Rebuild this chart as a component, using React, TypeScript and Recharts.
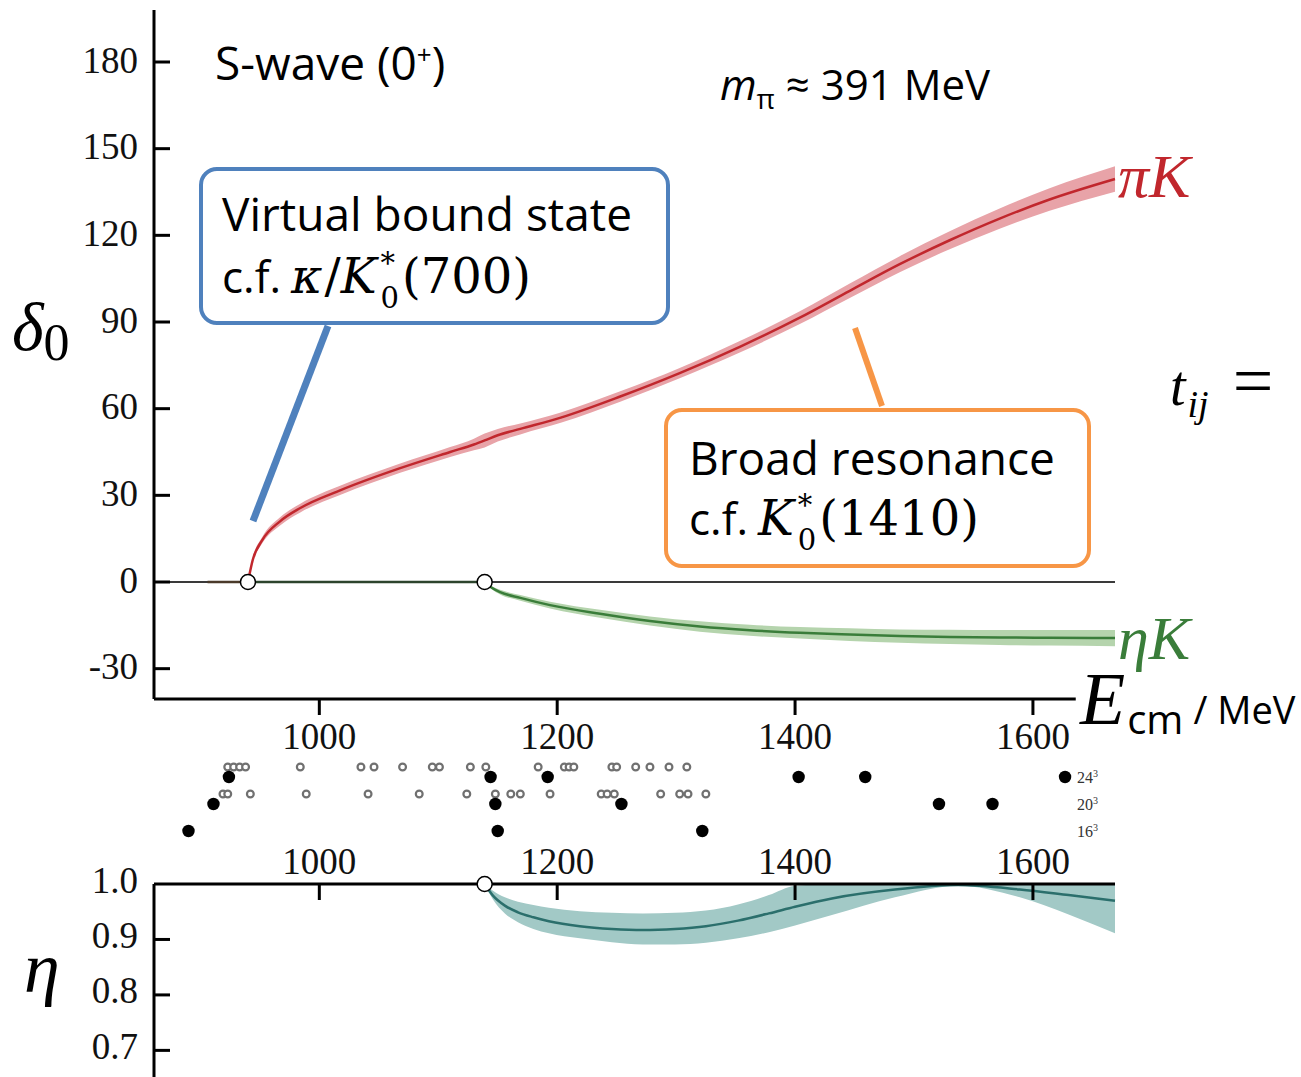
import React from 'react';
import {
  ComposedChart, ScatterChart, Scatter, Line, Area, XAxis, YAxis, ReferenceLine, ReferenceDot
} from 'recharts';

// thresholds in MeV
const piKThreshold = 940;
const etaKThreshold = 1139;

const xDomain: [number, number] = [861, 1669];
const xTicks = [1000, 1200, 1400, 1600];
const deltaTicks = [-30, 0, 30, 60, 90, 120, 150, 180];
const etaTicks = [0.7, 0.8, 0.9, 1.0];

// pi K phase shift (deg) with error half-width
const piKE = [940, 944, 952, 967, 984, 1018, 1068, 1110, 1130, 1139, 1150, 1169, 1203, 1253, 1303, 1354, 1404, 1446, 1488, 1530, 1572, 1614, 1669];
const piKDelta = [0, 7.6, 14.5, 21, 25.6, 31.8, 39.4, 45, 47.6, 49, 50.8, 53, 56.9, 64.2, 72.3, 81.5, 91.5, 100.8, 110, 118.3, 125.8, 132.4, 139.5];
const piKErr = [0, 0.8, 1.1, 1.4, 1.5, 1.6, 1.6, 1.7, 2, 2.4, 2.2, 1.9, 1.8, 1.8, 1.8, 2, 2.2, 2.5, 2.8, 3.1, 3.5, 3.9, 4.4];

// eta K phase shift (deg)
const etaKE = [1139, 1145, 1152, 1169, 1194, 1236, 1278, 1320, 1362, 1404, 1446, 1488, 1530, 1572, 1614, 1669];
const etaKDelta = [0, -2, -3.5, -5.5, -8, -11, -13.5, -15.4, -16.7, -17.6, -18.2, -18.7, -19, -19.2, -19.3, -19.4];
const etaKErr = [0, 0.5, 0.8, 1, 1.2, 1.4, 1.6, 1.8, 1.9, 2, 2.2, 2.3, 2.5, 2.6, 2.7, 2.8];

// inelasticity eta
const inelE = [1139, 1146, 1156, 1167, 1180, 1193, 1219, 1246, 1272, 1299, 1325, 1352, 1378, 1400, 1431, 1484, 1537, 1589, 1630, 1669];
const inelVal = [1.0, 0.979, 0.961, 0.949, 0.94, 0.933, 0.924, 0.919, 0.917, 0.919, 0.924, 0.934, 0.947, 0.959, 0.974, 0.99, 0.998, 0.99, 0.98, 0.97];
const inelLow = [1.0, 0.972, 0.947, 0.931, 0.919, 0.911, 0.902, 0.895, 0.891, 0.891, 0.894, 0.902, 0.913, 0.925, 0.944, 0.976, 0.997, 0.976, 0.945, 0.911];
const inelHigh = [1.0, 0.988, 0.976, 0.968, 0.962, 0.957, 0.951, 0.948, 0.947, 0.948, 0.952, 0.963, 0.98, 0.997, 1.0, 1.0, 1.0, 1.0, 1.0, 1.0];

// finite-volume energy levels (MeV)
const levels24 = [924, 1144, 1192, 1403, 1459, 1627];
const levels20 = [911, 1148, 1254, 1521, 1566];
const levels16 = [890, 1150, 1322];
const free24 = [923, 928, 933, 938, 984, 1035, 1046, 1070, 1095, 1101, 1127, 1140, 1184, 1206, 1210, 1214, 1246, 1250, 1266, 1278, 1294, 1309];
const free20 = [919, 923, 942, 989, 1041, 1084, 1124, 1148, 1161, 1169, 1194, 1237, 1242, 1248, 1287, 1303, 1310, 1325];
const volumeLabels = ['24', '20', '16'];
const volumeRow = [3, 2, 1];
const freeOffset = 0.37;

// merged table for the phase-shift panel
const phaseMap = new Map<number, any>();
piKE.forEach((e, i) => {
  const r = phaseMap.get(e) || { E: e };
  r.pi = piKDelta[i];
  r.piBand = [piKDelta[i] - piKErr[i], piKDelta[i] + piKErr[i]];
  phaseMap.set(e, r);
});
etaKE.forEach((e, i) => {
  const r = phaseMap.get(e) || { E: e };
  r.eta = etaKDelta[i];
  r.etaBand = [etaKDelta[i] - etaKErr[i], etaKDelta[i] + etaKErr[i]];
  phaseMap.set(e, r);
});
const phaseData = Array.from(phaseMap.values()).sort((a, b) => a.E - b.E);

const inelData = inelE.map((e, i) => ({ E: e, val: inelVal[i], band: [inelLow[i], inelHigh[i]] }));

const toPoints = (arr: number[], y: number) => arr.map(E => ({ E, y }));

const serif = '"Liberation Serif", "DejaVu Serif", serif';
const math = '"DejaVu Serif", "Liberation Serif", serif';
const sans = '"Open Sans", "Noto Sans", sans-serif';

const TOP_BOTTOM = 699;
const AXIS_X = 154;
const TICK_FONT = 37;
const MATH_SIZE = 48;

const TopXTick = (props: any) => {
  const { x, payload } = props;
  return (
    <g>
      <line x1={x} x2={x} y1={TOP_BOTTOM} y2={TOP_BOTTOM + 16} stroke="#000" strokeWidth={3} />
      <text x={x} y={736} textAnchor="middle" dominantBaseline="central" fontFamily={serif} fontSize={TICK_FONT} fill="#111">
        {payload.value}
      </text>
    </g>
  );
};

const TopYTick = (props: any) => {
  const { y, payload } = props;
  return (
    <g>
      <line x1={AXIS_X} x2={AXIS_X + 16} y1={y} y2={y} stroke="#000" strokeWidth={3} />
      <text x={138} y={y - 2} textAnchor="end" dominantBaseline="central" fontFamily={serif} fontSize={TICK_FONT} fill="#111">
        {payload.value}
      </text>
    </g>
  );
};

const BotXTick = (props: any) => {
  const { x, payload } = props;
  return (
    <g>
      <line x1={x} x2={x} y1={44} y2={60} stroke="#000" strokeWidth={3} />
      <text x={x} y={21} textAnchor="middle" dominantBaseline="central" fontFamily={serif} fontSize={TICK_FONT} fill="#111">
        {payload.value}
      </text>
    </g>
  );
};

const BotYTick = (props: any) => {
  const { y, payload } = props;
  return (
    <g>
      {payload.value < 1 && <line x1={AXIS_X} x2={AXIS_X + 16} y1={y} y2={y} stroke="#000" strokeWidth={3} />}
      <text x={138} y={y - 4} textAnchor="end" dominantBaseline="central" fontFamily={serif} fontSize={TICK_FONT} fill="#111">
        {payload.value.toFixed(1)}
      </text>
    </g>
  );
};

const blackDot = (p: any) => <circle cx={p.cx} cy={p.cy} r={6.2} fill="#000" />;
const greyRing = (p: any) => <circle cx={p.cx} cy={p.cy} r={3.4} fill="#fff" stroke="#707070" strokeWidth={2.2} />;

const abs = (left: number, top: number, extra: React.CSSProperties = {}): React.CSSProperties => ({
  position: 'absolute', left, top, whiteSpace: 'nowrap', ...extra
});

// K with stacked * and 0
const KStar = ({ size }: { size: number }) => (
  <span style={{ fontFamily: math, fontSize: size }}>
    <i>K</i>
    <span style={{ display: 'inline-flex', flexDirection: 'column', verticalAlign: 'middle', fontSize: 29, lineHeight: 1.2, marginLeft: 4, marginRight: 3 }}>
      <span style={{ fontStyle: 'italic' }}>*</span>
      <span>0</span>
    </span>
  </span>
);

export default function App() {
  return (
    <div style={{ position: 'absolute', left: 0, top: 0, width: 1301, height: 1077, background: '#fff', overflow: 'hidden' }}>
      {/* phase shift panel */}
      <div style={{ position: 'absolute', left: 0, top: 0 }}>
        <ComposedChart width={1301} height={760} data={phaseData} margin={{ top: 10, right: 186, left: 94, bottom: 21 }}>
          <XAxis dataKey="E" type="number" domain={xDomain} ticks={xTicks} axisLine={false} tickLine={false} height={40} tick={TopXTick} interval={0} />
          <YAxis type="number" domain={[-40.5, 198]} ticks={deltaTicks} axisLine={false} tickLine={false} width={60} tick={TopYTick} interval={0} />
          <ReferenceLine y={0} stroke="#3a3a3a" strokeWidth={2} />
          <ReferenceLine segment={[{ x: 906, y: 0 }, { x: piKThreshold, y: 0 }]} stroke="#4a3a2a" strokeWidth={2.5} />
          <ReferenceLine segment={[{ x: piKThreshold, y: 0 }, { x: etaKThreshold, y: 0 }]} stroke="#2c442c" strokeWidth={2.5} />
          <ReferenceLine x={xDomain[0]} stroke="#000" strokeWidth={3} />
          <ReferenceLine segment={[{ x: xDomain[0], y: -40.5 }, { x: 1636, y: -40.5 }]} stroke="#000" strokeWidth={3} />
          <Area type="monotone" dataKey="piBand" stroke="none" fill="#e8a3a8" fillOpacity={1} connectNulls isAnimationActive={false} activeDot={false} />
          <Area type="monotone" dataKey="etaBand" stroke="none" fill="#b5d4ad" fillOpacity={1} connectNulls isAnimationActive={false} activeDot={false} />
          <Line type="monotone" dataKey="pi" stroke="#c1272d" strokeWidth={2.5} dot={false} activeDot={false} connectNulls isAnimationActive={false} />
          <Line type="monotone" dataKey="eta" stroke="#3a7d3a" strokeWidth={2.5} dot={false} activeDot={false} connectNulls isAnimationActive={false} />
          <ReferenceDot x={piKThreshold} y={0} r={7.5} fill="#fff" stroke="#000" strokeWidth={1.5} />
          <ReferenceDot x={etaKThreshold} y={0} r={7.5} fill="#fff" stroke="#000" strokeWidth={1.5} />
        </ComposedChart>
      </div>

      {/* energy levels strip */}
      <div style={{ position: 'absolute', left: 0, top: 750 }}>
        <ScatterChart width={1301} height={108} margin={{ top: 0, right: 186, left: 154, bottom: 0 }}>
          <XAxis dataKey="E" type="number" domain={xDomain} hide />
          <YAxis dataKey="y" type="number" domain={[0, 4]} hide />
          <Scatter data={toPoints(free24, volumeRow[0] + freeOffset)} shape={greyRing} isAnimationActive={false} />
          <Scatter data={toPoints(free20, volumeRow[1] + freeOffset)} shape={greyRing} isAnimationActive={false} />
          <Scatter data={toPoints(levels24, volumeRow[0])} shape={blackDot} isAnimationActive={false} />
          <Scatter data={toPoints(levels20, volumeRow[1])} shape={blackDot} isAnimationActive={false} />
          <Scatter data={toPoints(levels16, volumeRow[2])} shape={blackDot} isAnimationActive={false} />
        </ScatterChart>
      </div>
      {volumeLabels.map((v, i) => (
        <div key={v} style={abs(1077, 764 + i * 27, { fontFamily: serif, fontSize: 16, color: '#333', lineHeight: '20px' })}>
          {v}<sup style={{ fontSize: 10 }}>3</sup>
        </div>
      ))}

      {/* inelasticity panel */}
      <div style={{ position: 'absolute', left: 0, top: 840 }}>
        <ComposedChart width={1301} height={237} data={inelData} margin={{ top: 0, right: 186, left: 94, bottom: 0 }}>
          <XAxis dataKey="E" type="number" orientation="top" domain={xDomain} ticks={xTicks} axisLine={false} tickLine={false} height={44} tick={BotXTick} interval={0} />
          <YAxis type="number" domain={[0.652, 1.0]} ticks={etaTicks} axisLine={false} tickLine={false} width={60} tick={BotYTick} interval={0} />
          <Area type="monotone" dataKey="band" stroke="none" fill="#a2c9c6" fillOpacity={1} isAnimationActive={false} activeDot={false} />
          <Line type="monotone" dataKey="val" stroke="#2b6f6c" strokeWidth={2.5} dot={false} activeDot={false} isAnimationActive={false} />
          <ReferenceLine y={1.0} stroke="#000" strokeWidth={3} />
          <ReferenceLine x={xDomain[0]} stroke="#000" strokeWidth={3} />
          <ReferenceDot x={etaKThreshold} y={1.0} r={7.5} fill="#fff" stroke="#000" strokeWidth={1.5} />
        </ComposedChart>
      </div>

      {/* axis labels */}
      <div style={abs(12, 288, { fontFamily: serif, fontSize: 68, fontStyle: 'italic', lineHeight: '78px' })}>
        δ<span style={{ fontStyle: 'normal', fontSize: 52, position: 'relative', top: 10 }}>0</span>
      </div>
      <div style={abs(24, 928, { fontFamily: serif, fontSize: 72, fontStyle: 'italic', lineHeight: '80px' })}>η</div>
      <div style={abs(1080, 656, { lineHeight: '86px' })}>
        <span style={{ fontFamily: serif, fontStyle: 'italic', fontSize: 74 }}>E</span>
        <span style={{ fontFamily: sans, fontSize: 40, position: 'relative', top: 10, marginLeft: 2 }}>cm</span>
        <span style={{ fontFamily: sans, fontSize: 38, marginLeft: 10 }}>/ MeV</span>
      </div>
      <div style={abs(1170, 343, { fontFamily: serif, fontSize: 56, lineHeight: '76px' })}>
        <i>t</i><i style={{ fontSize: 38, position: 'relative', top: 12, marginLeft: 2 }}>ij</i>
        <span style={{ marginLeft: 24, fontSize: 72 }}>=</span>
      </div>
      <div style={abs(1118, 142, { fontFamily: serif, fontSize: 62, fontStyle: 'italic', color: '#c1272d', lineHeight: '68px' })}>πK</div>
      <div style={abs(1118, 604, { fontFamily: serif, fontSize: 62, fontStyle: 'italic', color: '#3a7d3a', lineHeight: '68px' })}>ηK</div>

      {/* titles */}
      <div style={abs(215, 24, { fontFamily: sans, fontSize: 46, lineHeight: '60px' })}>
        S-wave (0<sup style={{ fontSize: 26 }}>+</sup>)
      </div>
      <div style={abs(720, 54, { fontFamily: sans, fontSize: 42, lineHeight: '60px' })}>
        <i>m</i><sub style={{ fontSize: 28 }}>π</sub> ≈ 391 MeV
      </div>

      {/* pointer lines */}
      <svg width={1301} height={1077} style={{ position: 'absolute', left: 0, top: 0, pointerEvents: 'none' }}>
        <line x1={328} y1={326} x2={253} y2={521} stroke="#4f81bd" strokeWidth={7} />
        <line x1={855} y1={328} x2={882} y2={406} stroke="#f79646" strokeWidth={6} />
      </svg>

      {/* annotation boxes */}
      <div style={abs(199, 167, { width: 463, height: 150, border: '4px solid #4f81bd', borderRadius: 18, background: '#fff' })} />
      <div style={abs(222, 181, { fontFamily: sans, fontSize: 46, lineHeight: '64px' })}>Virtual bound state</div>
      <div style={abs(222, 244, { fontFamily: sans, fontSize: 44, lineHeight: '64px' })}>
        c.f.<span style={{ fontFamily: math, fontSize: MATH_SIZE, marginLeft: 10 }}><i>κ</i><span style={{ marginLeft: 2 }}>/</span></span><KStar size={MATH_SIZE} /><span style={{ fontFamily: math, fontSize: MATH_SIZE }}>(700)</span>
      </div>

      <div style={abs(664, 408, { width: 419, height: 152, border: '4px solid #f79646', borderRadius: 18, background: '#fff' })} />
      <div style={abs(689, 425, { fontFamily: sans, fontSize: 46, lineHeight: '64px' })}>Broad resonance</div>
      <div style={abs(689, 486, { fontFamily: sans, fontSize: 44, lineHeight: '64px' })}>
        c.f.<span style={{ marginLeft: 10 }} /><KStar size={MATH_SIZE} /><span style={{ fontFamily: math, fontSize: MATH_SIZE }}>(1410)</span>
      </div>
    </div>
  );
}
